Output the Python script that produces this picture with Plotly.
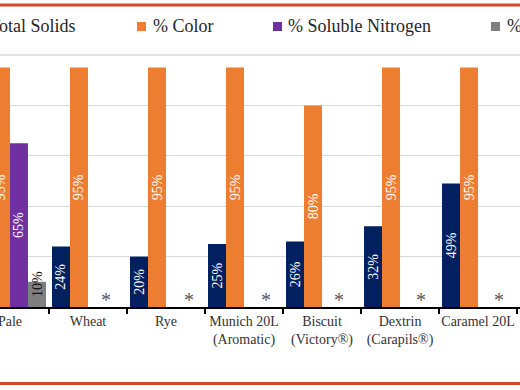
import plotly.graph_objects as go

# ---------------- data ----------------
categories = ["Pale", "Wheat", "Rye", "Munich 20L<br>(Aromatic)", "Biscuit<br>(Victory®)",
              "Dextrin<br>(Carapils®)", "Caramel 20L", "Caramel 40L"]
total_solids = [22, 24, 20, 25, 26, 32, 49, 43]
color_pct = [95, 95, 95, 95, 80, 95, 95, 95]
soluble_nitrogen = [65, None, None, None, None, None, None, None]
fourth_series = [10, None, None, None, None, None, None, None]
missing_marker = ["", "*", "*", "*", "*", "*", "*", ""]
series_names = ["% Total Solids", "% Color", "% Soluble Nitrogen", "% Diastatic Power"]

# ---------------- style ----------------
W, H = 520, 390
M_T, M_B = 55, 83
PLOT_H = H - M_T - M_B
FONT = "'Liberation Serif', 'Times New Roman', Times, 'DejaVu Serif', serif"
colors = ["#002060", "#ED7D31", "#7030A0", "#7F7F7F"]
GRID = "#D9D9D9"


def py(y_px):
    """pixel y (from top) -> paper y"""
    return (H - M_B - y_px) / PLOT_H


def px(x_px):
    return x_px / W


fig = go.Figure()
values = [total_solids, color_pct, soluble_nitrogen, fourth_series]
for i, (name, vals) in enumerate(zip(series_names, values)):
    fig.add_trace(go.Bar(
        name=name, x=categories, y=vals, marker=dict(color=colors[i], line=dict(width=0)),
        texttemplate="%{y}%", textposition="none" if i == 3 else "inside", textangle=-90,
        insidetextanchor="middle", constraintext="none",
        insidetextfont=dict(family=FONT, size=14, color="white"),
        showlegend=False,
    ))

# labels of the small 4th-series bars (text larger than the bar)
for c, v in zip(categories, fourth_series):
    if v is not None:
        fig.add_annotation(x=c, y=0, text=f"{v}%", showarrow=False, textangle=-90,
                           xshift=27, yshift=8, yanchor="bottom", xanchor="center",
                           font=dict(family=FONT, size=14, color="#111111"))

# asterisk markers (missing data)
ast_shift = [0, 18, 23, 22, 17, 21, 21, 0]
for c, t, s in zip(categories, missing_marker, ast_shift):
    if t:
        fig.add_annotation(x=c, y=0, text=t, showarrow=False, xshift=s, yshift=-6,
                           yanchor="bottom", font=dict(family=FONT, size=20, color="#595959"))

# manual legend (clipped at the figure edges like the reference)
legend_sq_x = [-45, 137, 273, 491]
legend_tx_x = [-32, 151, 286, 505]
for i, name in enumerate(series_names):
    fig.add_shape(type="rect", xref="paper", yref="paper",
                  x0=px(legend_sq_x[i]), x1=px(legend_sq_x[i] + 9),
                  y0=py(31), y1=py(22), fillcolor=colors[i], line=dict(width=0))
    fig.add_annotation(xref="paper", yref="paper", x=px(legend_tx_x[i]), y=py(26.5),
                       xanchor="left", yanchor="middle", text=name, showarrow=False,
                       font=dict(family=FONT, size=18, color="#262626"))

# top gridline at the axis maximum
fig.add_shape(type="line", xref="paper", yref="paper", x0=0, x1=1, y0=1, y1=1,
              line=dict(color=GRID, width=1.5), layer="below")

# red frame lines
for yline in (5, 383.5):
    fig.add_shape(type="line", xref="paper", yref="paper", x0=0, x1=1,
                  y0=py(yline), y1=py(yline), line=dict(color="#D4472B", width=3))

fig.update_layout(
    width=W, height=H,
    margin=dict(l=0, r=0, t=M_T, b=M_B, autoexpand=False),
    paper_bgcolor="white", plot_bgcolor="white",
    barmode="group", bargap=0.077, bargroupgap=0,
    font=dict(family=FONT, size=14, color="#333333"),
    xaxis=dict(range=[-0.128, 6.538], showline=True, linecolor="black", linewidth=2,
               ticks="outside", tickson="boundaries", ticklen=5, tickwidth=1.5,
               tickcolor="black", showgrid=False, tickangle=0, automargin=False,
               tickfont=dict(family=FONT, size=14, color="#333333")),
    yaxis=dict(range=[0, 100], dtick=20, showgrid=True, gridcolor=GRID, gridwidth=1,
               showticklabels=False, zeroline=False, showline=False, automargin=False),
)

fig.write_html("out.html", config={"displayModeBar": False},
               post_script="document.body.style.margin='0';document.body.style.overflow='hidden';")
